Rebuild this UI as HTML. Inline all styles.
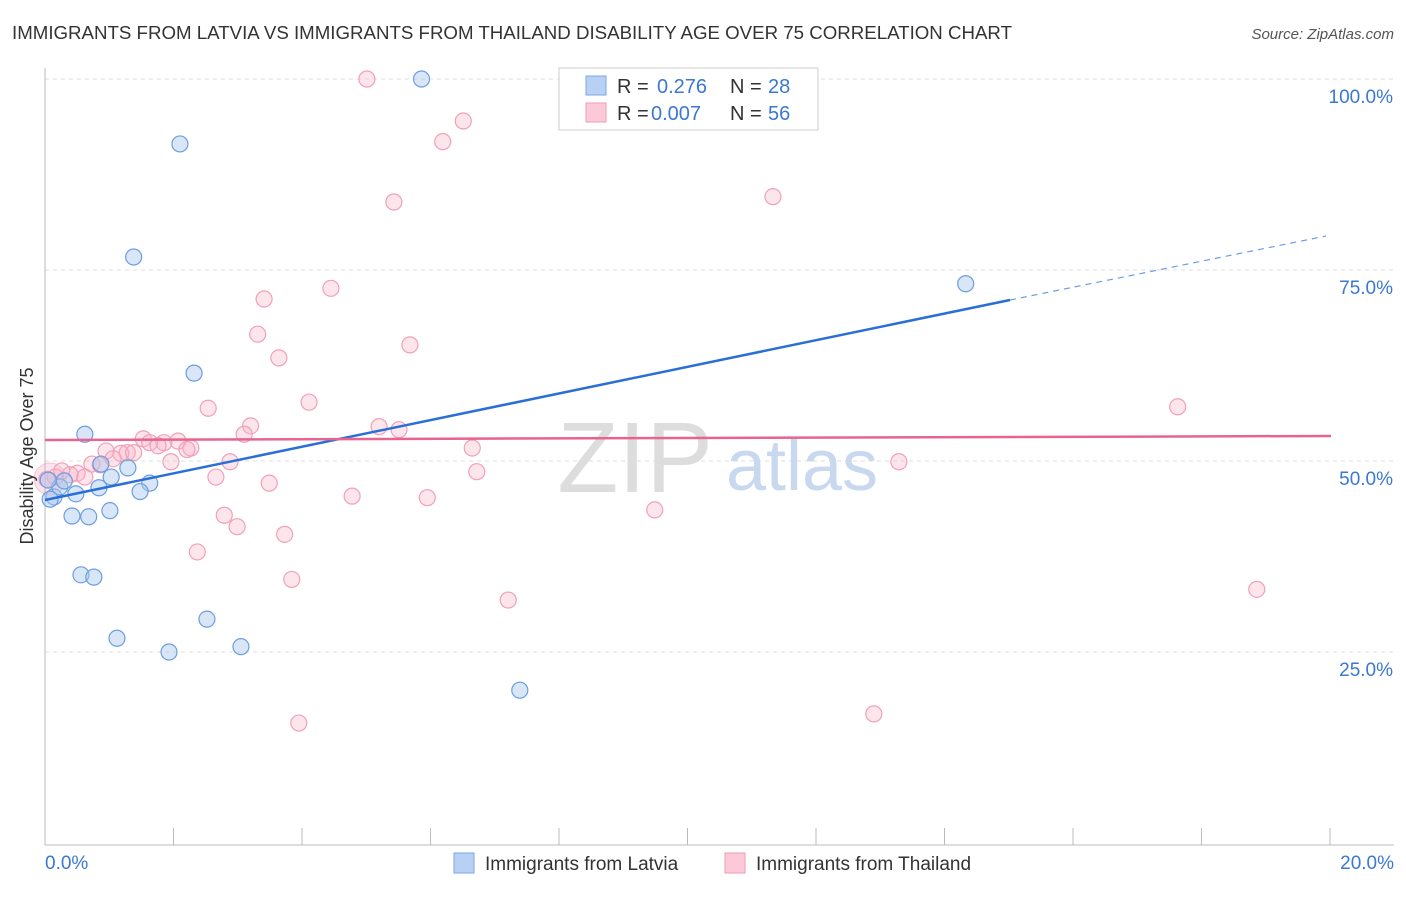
<!DOCTYPE html>
<html><head><meta charset="utf-8"><style>
body{margin:0;background:#fff;font-family:"Liberation Sans",sans-serif;}
svg text{font-family:"Liberation Sans",sans-serif;}
</style></head><body>
<svg width="1406" height="892">
<text x="12" y="39" font-size="18" fill="#333" textLength="1000" lengthAdjust="spacingAndGlyphs">IMMIGRANTS FROM LATVIA VS IMMIGRANTS FROM THAILAND DISABILITY AGE OVER 75 CORRELATION CHART</text>
<text x="1394" y="39" font-size="15" fill="#555" text-anchor="end" font-style="italic">Source: ZipAtlas.com</text>
<g id="grid"></g>
<text x="635" y="492" font-size="100" fill="#ddd" font-family="Liberation Serif" text-anchor="middle">ZIP</text>
<text x="802" y="490" font-size="72" fill="#c8d8ef" text-anchor="middle">atlas</text>
<g id="pts"></g>
<g id="lines"></g>
<text x="33" y="456" font-size="18" fill="#333" text-anchor="middle" transform="rotate(-90 33 456)">Disability Age Over 75</text>
<text x="45" y="869" font-size="19" fill="#3b78d0">0.0%</text>
<text x="1394" y="869" font-size="19" fill="#3b78d0" text-anchor="end">20.0%</text>
<g>
<rect x="559" y="68" width="259" height="62" fill="#fff" stroke="#ccc"/>
<rect x="586" y="76" width="20" height="19" fill="#b7d0f3" stroke="#7aa7e6"/>
<rect x="586" y="103" width="20" height="19" fill="#fbc9d8" stroke="#f09ab6"/>
<text x="617" y="93" font-size="20" fill="#333">R =</text>
<text x="657" y="93" font-size="20" fill="#3b78d0">0.276</text>
<text x="730" y="93" font-size="20" fill="#333">N =</text>
<text x="768" y="93" font-size="20" fill="#3b78d0">28</text>
<text x="617" y="120" font-size="20" fill="#333">R =</text>
<text x="651" y="120" font-size="20" fill="#3b78d0">0.007</text>
<text x="730" y="120" font-size="20" fill="#333">N =</text>
<text x="768" y="120" font-size="20" fill="#3b78d0">56</text>
</g>
<g>
<rect x="454" y="853" width="20" height="20" fill="#b7d0f3" stroke="#7aa7e6"/>
<text x="485" y="870" font-size="19" fill="#333">Immigrants from Latvia</text>
<rect x="725" y="853" width="20" height="20" fill="#fbc9d8" stroke="#f09ab6"/>
<text x="756" y="870" font-size="19" fill="#333">Immigrants from Thailand</text>
</g>
</svg>
<script>
const blueX=[5.86,2.10,1.38,14.33,2.32,0.62,0.87,1.29,1.03,1.63,0.84,1.48,0.48,0.14,0.08,1.01,0.42,0.68,0.56,0.76,1.12,2.52,1.93,3.05,7.39,0.23,0.30,0.05];
const blueY=[100,91.5,76.7,73.2,61.5,53.5,49.6,49.1,47.9,47.1,46.5,46.0,45.7,45.3,45.0,43.5,42.8,42.7,35.1,34.8,26.8,29.3,25.0,25.7,20.0,46.6,47.4,47.5];
const pinkX=[5.01,6.51,6.19,5.43,11.33,3.41,4.45,3.31,3.64,5.68,2.54,4.11,17.63,3.20,3.10,5.20,5.51,1.53,2.07,2.27,1.85,1.63,1.76,1.28,1.18,1.38,0.95,1.06,0.73,1.96,2.88,6.65,13.29,6.72,0.50,0.39,0.16,0.62,0.03,2.66,3.49,4.78,5.95,9.49,2.79,2.99,3.73,2.37,3.84,7.21,18.86,12.90,3.95,0.26,0.86,2.21];
const pinkY=[100,94.5,91.8,83.9,84.6,71.2,72.6,66.6,63.5,65.2,56.9,57.7,57.1,54.6,53.5,54.5,54.1,52.9,52.6,51.7,52.4,52.4,52.0,51.1,51.0,51.1,51.3,50.3,49.6,49.9,49.9,51.7,49.9,48.6,48.4,48.2,47.9,47.9,47.6,47.9,47.1,45.4,45.2,43.6,42.9,41.4,40.4,38.1,34.5,31.8,33.2,16.9,15.7,48.7,49.5,51.5];
const X=v=>45+v/20*1285, Y=v=>843-v/100*764;
const NS='http://www.w3.org/2000/svg';
function mk(t,a,p){const e=document.createElementNS(NS,t);for(const k in a)e.setAttribute(k,a[k]);p.appendChild(e);return e;}
const g=document.getElementById('grid');
[100,75,50,25].forEach(v=>{
 const l=mk('line',{x1:45,x2:1394,y1:Y(v),y2:Y(v),stroke:'#ddd','stroke-dasharray':'4,4'},g);
 
 
 const t=mk('text',{x:1393,y:Y(v)+24,'font-size':19,fill:'#3b78d0','text-anchor':'end'},g);t.textContent=v.toFixed(1)+'%';
 
 
});
mk('line',{x1:45,x2:45,y1:68,y2:845,stroke:'#bbb'},g);
mk('line',{x1:45,x2:1394,y1:845,y2:845,stroke:'#bbb'},g);
for(let i=0;i<=10;i++){const t=mk('line',{x1:X(i*2),x2:X(i*2),y1:828,y2:845,stroke:'#bbb'},g);
 
 }
const P=document.getElementById('pts');
mk('circle',{cx:50,cy:479,r:16,fill:'rgba(240,150,180,0.25)',stroke:'rgba(240,150,180,0.5)'},P);
pinkX.forEach((x,i)=>{const c=mk('circle',{cx:X(x),cy:Y(pinkY[i]),r:8,fill:'rgba(248,180,200,0.35)',stroke:'#f0a0ba','stroke-width':1.2},P);
 
 });
blueX.forEach((x,i)=>{const c=mk('circle',{cx:X(x),cy:Y(blueY[i]),r:8,fill:'rgba(170,200,240,0.45)',stroke:'#6b9ee0','stroke-width':1.2},P);
 
 });
const L=document.getElementById('lines');
let b=mk('line',{x1:45,y1:500,x2:1010,y2:300,stroke:'#2a6fd6','stroke-width':2.5},L);


mk('line',{x1:1010,y1:300,x2:1326,y2:236,stroke:'#6b9ee0','stroke-width':1.2,'stroke-dasharray':'6,5'},L);
let p=mk('line',{x1:45,y1:440,x2:1331,y2:436,stroke:'#e8638f','stroke-width':2.5},L);


</script>
</body></html>
